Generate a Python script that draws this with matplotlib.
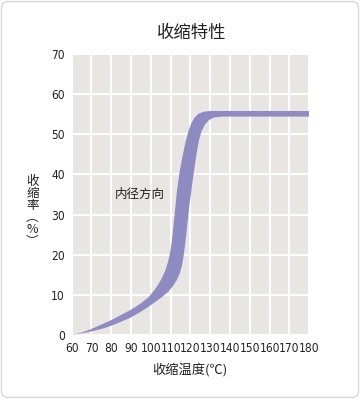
import matplotlib
matplotlib.use("Agg")
import matplotlib.pyplot as plt
from matplotlib.patches import FancyBboxPatch

plt.rcParams['font.family'] = ['Noto Sans CJK SC', 'DejaVu Sans']

# 收缩带上沿（左侧边界）
upper_x = [60, 65, 70, 75, 80, 85, 90, 95, 99, 102, 104, 106, 107.5, 108.7, 109.7, 110.5,
           111.3, 112.2, 113.2, 114.5, 116, 117.5, 119, 120.5, 122, 124, 126.5, 130, 180]
upper_y = [0, 0.6, 1.5, 2.6, 3.7, 5.0, 6.3, 7.9, 9.5, 11.3, 12.8, 14.6, 16.3, 18.3, 20.5, 23,
           26.5, 31, 36, 40.5, 44.5, 48, 50.8, 52.8, 54.1, 55.1, 55.6, 55.8, 55.8]
# 收缩带下沿（右侧边界）
lower_x = [60, 65, 70, 75, 80, 85, 90, 95, 99, 103, 106, 109, 111, 113, 114.5, 115.6, 116.5,
           117.3, 118, 118.7, 119.4, 120.2, 121, 122, 123.2, 124.3, 125.6, 127.3, 129.5, 132, 136, 180]
lower_y = [0, 0.4, 0.9, 1.5, 2.3, 3.3, 4.4, 5.8, 7.1, 8.5, 9.6, 10.9, 12.1, 13.6, 15.2, 17.0, 19.5,
           22.5, 25.5, 28.8, 32, 35, 38, 41.5, 45.5, 48.5, 50.7, 52.4, 53.6, 54.2, 54.4, 54.4]

x_ticks = list(range(60, 181, 10))
y_ticks = list(range(0, 71, 10))

fig = plt.figure(figsize=(3.6, 3.99), dpi=100)

# 圆角外框
fig.patches.append(FancyBboxPatch((0.004, 0.004), 0.992, 0.992,
                                  boxstyle="round,pad=0,rounding_size=0.018",
                                  transform=fig.transFigure, facecolor='white',
                                  edgecolor='#d9d9d9', linewidth=1.0, zorder=-10))

ax = fig.add_axes([0.199, 0.1604, 0.66, 0.7043])
ax.set_facecolor('#e8e5e2')

# 多边形：上沿从左到右，下沿从右到左
poly_x = upper_x + lower_x[::-1]
poly_y = upper_y + lower_y[::-1]
ax.fill(poly_x, poly_y, color='#8e8bc3', linewidth=0, zorder=3)

ax.set_xlim(60, 180)
ax.set_ylim(0, 70)
ax.set_xticks(x_ticks)
ax.set_yticks(y_ticks)
ax.grid(True, color='white', linewidth=1.4)
ax.set_axisbelow(True)
for s in ax.spines.values():
    s.set_visible(False)
ax.tick_params(length=0, labelsize=9, pad=5, colors='#222222')
for lb in ax.get_xticklabels() + ax.get_yticklabels():
    lb.set_family('DejaVu Sans')
    lb.set_fontstretch('condensed')
    lb.set_fontsize(8.6)

ax.text(94.5, 35, '内径方向', fontsize=9, ha='center', va='center', color='#222222')

fig.text(0.533, 0.918, '收缩特性', fontsize=12.5, fontweight='medium', ha='center', va='center', color='#222222')
fig.text(0.528, 0.073, '收缩温度(℃)', fontsize=9.5, ha='center', va='center', color='#222222')
fig.text(0.09, 0.47, '收\n缩\n率\n︵\n%\n︶', fontsize=9, ha='center', va='center',
         linespacing=0.9, color='#222222')

fig.savefig('out.png', dpi=100)
